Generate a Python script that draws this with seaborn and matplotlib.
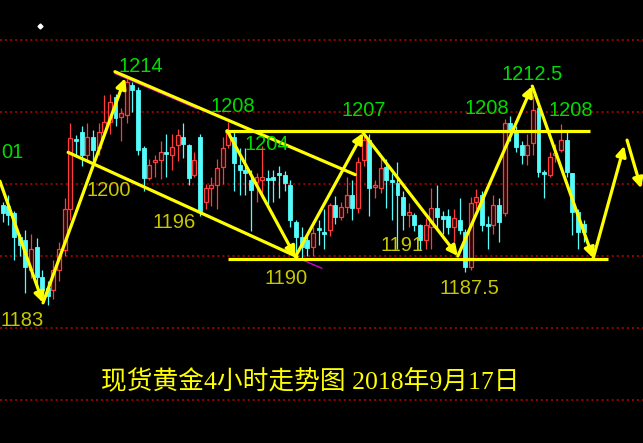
import numpy as np
import pandas as pd
import seaborn as sns
import matplotlib
matplotlib.use("Agg")
import matplotlib.pyplot as plt

# 4h candles, spot gold (price in USD)
opens = [1197.1, 1197.0, 1196.0, 1192.6, 1192.2, 1188.0, 1191.2, 1187.1, 1185.5, 1185.3,
         1188.0, 1190.8, 1196.6, 1206.3, 1207.2, 1204.0, 1206.5, 1205.0, 1207.2, 1208.6,
         1212.1, 1209.3, 1209.6, 1213.7, 1213.1, 1205.0, 1200.8, 1203.0, 1203.3, 1204.5,
         1204.0, 1205.4, 1206.6, 1205.4, 1201.3, 1206.5, 1197.5, 1199.5, 1199.9, 1202.4,
         1205.4, 1206.5, 1202.6, 1201.9, 1200.6, 1200.3, 1200.6, 1200.9, 1201.0, 1201.5,
         1201.3, 1199.9, 1194.7, 1192.6, 1192.2, 1191.2, 1193.9, 1193.4, 1193.6, 1197.1,
         1195.4, 1196.8, 1198.5, 1196.7, 1203.3, 1206.1, 1199.6, 1199.4, 1202.3, 1200.6,
         1200.1, 1198.2, 1195.7, 1195.7, 1194.3, 1192.2, 1194.1, 1196.7, 1195.6, 1195.6,
         1194.0, 1195.0, 1193.3, 1188.5, 1197.5, 1198.5, 1194.5, 1194.3, 1197.1, 1196.0,
         1208.5, 1207.5, 1205.4, 1204.0, 1205.7, 1210.5, 1201.7, 1201.3, 1204.0, 1204.7,
         1206.1, 1201.5, 1196.1, 1194.5]
highs = [1197.5, 1198.5, 1196.3, 1193.0, 1193.6, 1193.0, 1192.5, 1188.0, 1186.5, 1189.5,
         1192.0, 1198.0, 1208.5, 1206.8, 1208.0, 1208.5, 1207.5, 1208.5, 1212.3, 1212.5,
         1212.5, 1210.5, 1215.0, 1214.2, 1213.5, 1205.3, 1203.5, 1204.0, 1206.0, 1207.0,
         1207.0, 1207.6, 1208.5, 1205.5, 1204.5, 1207.0, 1200.0, 1201.0, 1203.5, 1206.5,
         1208.6, 1207.5, 1205.0, 1205.0, 1202.0, 1201.5, 1205.3, 1202.0, 1202.0, 1202.5,
         1201.8, 1200.5, 1195.0, 1194.0, 1193.0, 1194.0, 1195.0, 1196.5, 1197.4, 1198.3,
         1197.5, 1201.0, 1200.5, 1203.8, 1207.4, 1207.0, 1200.5, 1204.0, 1203.5, 1201.5,
         1203.0, 1199.0, 1197.3, 1196.0, 1194.5, 1195.3, 1199.5, 1199.8, 1196.3, 1196.5,
         1196.5, 1198.1, 1193.8, 1198.2, 1199.3, 1199.0, 1195.5, 1198.5, 1198.0, 1209.0,
         1209.5, 1208.0, 1206.0, 1207.0, 1212.4, 1211.0, 1202.0, 1204.5, 1205.5, 1208.4,
         1207.5, 1201.5, 1196.5, 1195.0]
lows = [1194.7, 1194.3, 1189.5, 1190.0, 1184.9, 1187.0, 1186.0, 1184.0, 1183.2, 1184.0,
        1186.5, 1190.0, 1195.0, 1204.0, 1202.5, 1203.0, 1202.5, 1204.0, 1206.8, 1207.0,
        1208.0, 1206.0, 1208.5, 1210.0, 1204.0, 1199.0, 1200.5, 1201.0, 1200.7, 1201.0,
        1202.0, 1203.2, 1203.6, 1199.8, 1201.0, 1195.5, 1196.5, 1197.0, 1196.5, 1200.0,
        1205.0, 1199.0, 1198.5, 1198.5, 1193.5, 1197.5, 1198.0, 1197.0, 1197.5, 1198.0,
        1199.0, 1194.0, 1190.0, 1189.5, 1190.0, 1190.0, 1191.5, 1191.0, 1192.8, 1194.4,
        1195.0, 1196.0, 1195.0, 1196.0, 1202.5, 1195.6, 1198.0, 1198.8, 1196.7, 1195.0,
        1191.0, 1193.6, 1194.0, 1193.5, 1190.8, 1191.0, 1191.0, 1193.6, 1193.0, 1193.0,
        1192.0, 1193.0, 1187.8, 1188.0, 1196.5, 1193.5, 1191.0, 1193.0, 1192.0, 1195.5,
        1206.0, 1204.5, 1202.8, 1202.6, 1204.0, 1201.0, 1198.0, 1201.0, 1203.0, 1204.5,
        1201.0, 1192.9, 1191.0, 1192.0]
closes = [1196.0, 1195.7, 1192.6, 1191.5, 1188.5, 1191.0, 1187.1, 1185.3, 1184.5, 1188.1,
          1191.0, 1196.6, 1206.4, 1206.0, 1204.0, 1206.5, 1204.7, 1207.2, 1208.6, 1211.4,
          1209.2, 1209.9, 1214.2, 1213.1, 1204.7, 1200.8, 1202.6, 1203.3, 1204.4, 1204.2,
          1205.2, 1206.8, 1205.6, 1200.8, 1203.3, 1196.2, 1199.5, 1199.9, 1202.2, 1205.0,
          1207.2, 1202.9, 1201.9, 1201.5, 1199.2, 1201.0, 1201.0, 1200.6, 1200.6, 1201.2,
          1200.1, 1195.0, 1192.6, 1191.2, 1191.1, 1193.2, 1193.6, 1193.0, 1197.1, 1195.4,
          1196.8, 1198.5, 1196.7, 1203.1, 1206.1, 1199.4, 1199.9, 1202.2, 1200.6, 1200.3,
          1198.5, 1195.7, 1196.1, 1194.3, 1192.2, 1194.3, 1196.7, 1195.4, 1195.2, 1194.0,
          1195.3, 1193.6, 1188.5, 1197.4, 1198.2, 1194.3, 1194.2, 1197.1, 1194.7, 1208.5,
          1207.5, 1205.1, 1204.0, 1205.4, 1210.3, 1201.7, 1201.4, 1203.8, 1204.3, 1206.1,
          1201.7, 1196.1, 1193.3, 1193.3]

# hand-drawn analysis lines, as (candle index, price)
left_zigzag_x = [-0.5, 7.15, 21.7]
left_zigzag_y = [1200.4, 1183.5, 1214.7]
right_zigzag_x = [39.8, 51.9, 63.9, 80.7, 93.9, 104.7, 110.2]
right_zigzag_y = [1207.4, 1189.9, 1207.1, 1190.0, 1213.6, 1189.7, 1205.3]
tail_x = [110.7, 113.2]
tail_y = [1206.1, 1199.4]
upper_channel_x = [19.9, 62.5]
upper_channel_y = [1215.6, 1201.3]
lower_channel_x = [11.6, 52.2]
lower_channel_y = [1204.4, 1189.9]
resistance = 1207.4
support = 1189.6
resistance_span = [39.4, 104.1]
support_span = [39.9, 107.3]

grid_prices = [1170, 1180, 1190, 1200, 1210, 1220]

high_labels = ["1214", "1208", "1204", "1207", "1208", "1212.5", "1208"]
low_labels = ["1200", "1196", "1183", "1190", "1191", "1187.5"]
title = "现货黄金4小时走势图 2018年9月17日"

W, H = 643, 443
YELLOW = "#ffff00"
CYAN = "#54fcfc"
RED = "#ff3c3c"

sns.set_theme(style="dark", rc={"axes.facecolor": "black", "figure.facecolor": "black"})
plt.rcParams["font.family"] = ["Liberation Sans", "Noto Sans CJK SC"]

df = pd.DataFrame({"open": opens, "high": highs, "low": lows, "close": closes})
df["idx"] = np.arange(len(df))
df["up"] = df["close"] >= df["open"]

fig = plt.figure(figsize=(W / 100, H / 100), dpi=100)
ax = fig.add_axes([0, 0, 1, 1])
ax.set_facecolor("black")

# dotted price grid
for p in grid_prices:
    ax.axhline(p, color="#9a0000", lw=1.4, ls=(0, (1, 1.6)), zorder=1)

# candles
for up, sub in df.groupby("up"):
    col = RED if up else CYAN
    ax.vlines(sub["idx"], sub["low"], sub["high"], color=col, lw=0.9, zorder=2)
    bottom = np.minimum(sub["open"], sub["close"])
    height = np.maximum((sub["close"] - sub["open"]).abs(), 0.15)
    if up:
        ax.bar(sub["idx"], height, bottom=bottom, width=0.7, facecolor="#2a0505",
               edgecolor=col, linewidth=0.9, zorder=3)
    else:
        ax.bar(sub["idx"], height, bottom=bottom, width=0.7, color=col,
               edgecolor=col, linewidth=0.6, zorder=3)

# magenta remnants of the original channel lines
ax.plot([upper_channel_x[0], 34.5], [upper_channel_y[0] - 0.25, 1210.7 - 0.25],
        color="#d000d0", lw=1.0, zorder=4)
ax.plot([53.3, 56.6], [1189.4, 1188.3], color="#d000d0", lw=1.0, zorder=4)

lw = 2.3
ax.plot(upper_channel_x, upper_channel_y, color=YELLOW, lw=lw, zorder=5)
ax.plot(lower_channel_x, lower_channel_y, color=YELLOW, lw=lw, zorder=5)
ax.hlines(resistance, *resistance_span, color=YELLOW, lw=lw, zorder=5)
ax.hlines(support, *support_span, color=YELLOW, lw=lw, zorder=5)


def arrow_path(xs, ys):
    for i in range(len(xs) - 1):
        ax.annotate("", xy=(xs[i + 1], ys[i + 1]), xytext=(xs[i], ys[i]),
                    arrowprops=dict(arrowstyle="-|>", color=YELLOW, lw=lw,
                                    mutation_scale=15, shrinkA=0, shrinkB=0),
                    zorder=6, annotation_clip=False)


arrow_path(left_zigzag_x, left_zigzag_y)
arrow_path(right_zigzag_x, right_zigzag_y)
arrow_path(tail_x, tail_y)

# price labels, placed in pixel positions
high_pos = [(141, 67), (233, 107), (267, 145), (364, 111), (487, 109), (532, 75), (571, 110)]
low_pos = [(109, 190), (174, 222), (22, 320), (286, 279), (402, 246), (469, 288)]
for txt, (px, py) in zip(high_labels, high_pos):
    ax.text(px / W, 1 - py / H, txt, transform=ax.transAxes, color="#00dc00",
            fontsize=14.5, ha="center", va="center", zorder=7)
for txt, (px, py) in zip(low_labels, low_pos):
    ax.text(px / W, 1 - py / H, txt, transform=ax.transAxes, color="#c8c800",
            fontsize=14.5, ha="center", va="center", zorder=7)
# label clipped by the left edge in the original ("1201")
ax.text(1 / W, 1 - 152 / H, "01", transform=ax.transAxes, color="#00dc00",
        fontsize=14.5, ha="left", va="center", zorder=7)

ax.text(310 / W, 1 - 381 / H, title, transform=ax.transAxes, color=YELLOW,
        fontsize=18.5, ha="center", va="center",
        family=["Liberation Serif", "Noto Sans CJK SC"], zorder=7)

ax.plot([40 / W], [1 - 26 / H], marker="D", ms=2.5, color="white",
        transform=ax.transAxes)

ax.set_xlim(-0.48, 113.53)
ax.set_ylim(1164.03, 1225.56)
ax.axis("off")

fig.savefig("out.png", dpi=100, facecolor="black")
